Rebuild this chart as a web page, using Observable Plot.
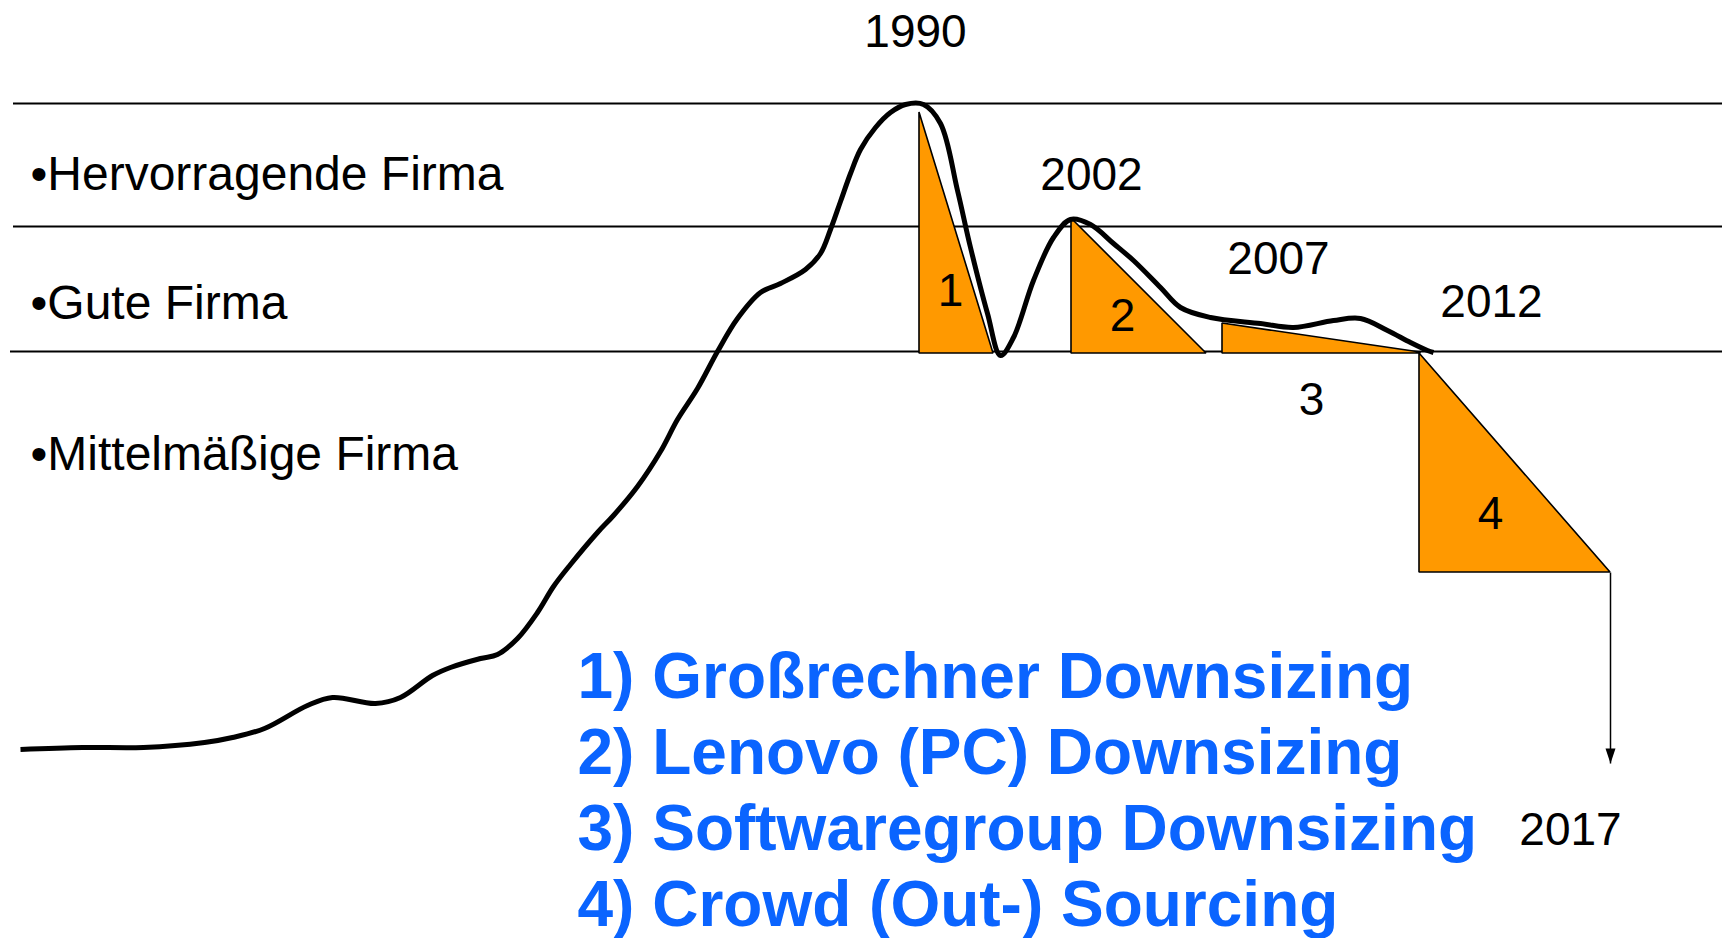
<!DOCTYPE html>
<html><head><meta charset="utf-8">
<script src="https://cdn.jsdelivr.net/npm/d3@7"></script>
<script src="https://cdn.jsdelivr.net/npm/@observablehq/plot@0.6"></script>
<style>
html,body{margin:0;padding:0;background:#fff;}
#chart svg{display:block;}
</style></head><body><div id="chart"></div>
<script>
// Kurve (Zeitachse, Bewertung)
const kurveX = [20,82,143,204,232,264,307,332,375,400,432,450,480,497,517,537,553,570,597,613,637,660,677,697,717,737,760,780,805,820,830,840,850,860,875,890,905,923,940,957,970,987,1000,1013,1033,1053,1070,1090,1113,1133,1160,1180,1210,1260,1293,1333,1360,1387,1410,1427,1433];
const kurveY = [189,191,191,196,201,210,233,241,235,241,263,271,280,284,300,326,352,374,406,423,452,487,519,550,587,620,646,655,669,685,709,737,765,789,811,826,834,834,815,748,691,625,583,601,658,701,719,714,695,678,651,631,621,615,611,618,620,608,596,588,586];

// Stufen (Trennlinien)
const stufen = [835, 712, 587];
const stufenStart = [13, 13, 10];
const stufenEnde = [1722, 1722, 1722];

const firmenTypen = ["•Hervorragende Firma", "•Gute Firma", "•Mittelmäßige Firma"];
const firmenTypY = [764, 635, 484];

const jahre = ["1990", "2002", "2007", "2012", "2017"];
const jahrX = [915, 1091, 1278, 1491, 1570];
const jahrY = [906, 763, 679, 636, 108];

// Dreiecke (Downsizing-Phasen)
const dreieckNr = ["1", "2", "3", "4"];
const dreieckX0 = [919, 1071, 1222, 1419];
const dreieckX1 = [993, 1206, 1420, 1610];
const dreieckBasis = [585, 585, 585, 366];
const dreieckStart = [826, 720, 615, 585];
const dreieckEnde = [585, 585, 586, 366];
const nummerX = [950, 1122, 1311, 1490];
const nummerY = [647, 622, 538, 424];

// Pfeil nach 2017
const pfeilX = [1610];
const pfeilVon = [366];
const pfeilBis = [175];

const massnahmen = [
  "1) Großrechner Downsizing",
  "2) Lenovo (PC) Downsizing",
  "3) Softwaregroup Downsizing",
  "4) Crowd (Out-) Sourcing"
];
const massnahmenX = 577;
const massnahmenY = 294;

// Tabellen
const kurve = kurveX.map((x, i) => ({x, y: kurveY[i]}));
const linien = stufen.map((y, i) => ({y, x1: stufenStart[i], x2: stufenEnde[i]}));
const typen = firmenTypen.map((t, i) => ({t, y: firmenTypY[i]}));
const jahrTab = jahre.map((t, i) => ({t, x: jahrX[i], y: jahrY[i]}));
const dreiecke = dreieckNr.flatMap((n, i) => [
  {n, x: dreieckX0[i], y1: dreieckBasis[i], y2: dreieckStart[i]},
  {n, x: dreieckX1[i], y1: dreieckBasis[i], y2: dreieckEnde[i]}
]);
const nummern = dreieckNr.map((t, i) => ({t, x: nummerX[i], y: nummerY[i]}));
const pfeil = pfeilX.map((x, i) => ({x, y1: pfeilVon[i], y2: pfeilBis[i]}));

const pfeilSpitze = {
  draw(ctx, size) {
    ctx.moveTo(-5, -15);
    ctx.lineTo(5, -15);
    ctx.lineTo(0, 0);
    ctx.closePath();
  }
};

const FONT = "Liberation Sans, Arial, Helvetica, sans-serif";

const chart = Plot.plot({
  width: 1722,
  height: 938,
  margin: 0,
  x: {domain: [0, 1722], axis: null},
  y: {domain: [0, 938], axis: null},
  style: {background: "#fff", fontFamily: FONT},
  marks: [
    Plot.ruleY(linien, {y: "y", x1: "x1", x2: "x2", stroke: "#000", strokeWidth: 2}),
    Plot.areaY(dreiecke, {x: "x", y1: "y1", y2: "y2", z: "n", fill: "#FF9900", stroke: "#000", strokeWidth: 1.6, strokeLinejoin: "miter"}),
    Plot.line(kurve, {x: "x", y: "y", stroke: "#000", strokeWidth: 5, curve: "catmull-rom", strokeLinejoin: "round", strokeLinecap: "butt"}),
    Plot.link(pfeil, {x1: "x", x2: "x", y1: "y1", y2: "y2", stroke: "#000", strokeWidth: 1.5}),
    Plot.dot(pfeil, {x: "x", y: "y2", symbol: pfeilSpitze, r: 5, fill: "#000", stroke: null}),
    Plot.text(typen, {x: 30, y: "y", text: "t", textAnchor: "start", fontSize: 48, fill: "#000", fontFamily: FONT}),
    Plot.text(jahrTab, {x: "x", y: "y", text: "t", fontSize: 46, fill: "#000", fontFamily: FONT}),
    Plot.text(nummern, {x: "x", y: "y", text: "t", fontSize: 46, fill: "#000", fontFamily: FONT}),
    Plot.text([massnahmen.join("\n")], {x: massnahmenX, y: massnahmenY, text: d => d, textAnchor: "start", lineAnchor: "top", lineHeight: 76 / 64, fontSize: 64, fontWeight: "bold", fill: "#0A64FF", fontFamily: FONT})
  ]
});
document.getElementById("chart").append(chart);
</script>
</body></html>
